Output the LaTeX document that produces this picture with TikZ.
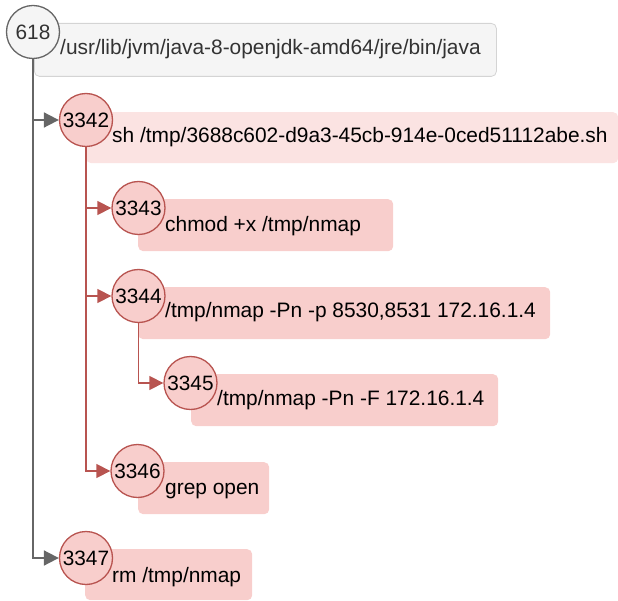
\documentclass[tikz,border=0pt]{standalone}
\usepackage{fontspec}
\setmainfont{Liberation Sans}
\usetikzlibrary{arrows.meta}

\definecolor{greyfill}{HTML}{F5F5F5}
\definecolor{greyedge}{HTML}{666666}
\definecolor{greybox}{HTML}{D4D4D4}
\definecolor{greytext}{HTML}{333333}
\definecolor{redfill}{HTML}{F8CECC}
\definecolor{redpale}{HTML}{FBE3E2}
\definecolor{rededge}{HTML}{B85450}

\tikzset{
  pid/.style={circle, minimum size=53pt, inner sep=0pt, line width=1.3pt,
    font=\fontsize{20.8}{24}\selectfont},
  pidgrey/.style={pid, fill=greyfill, draw=greyedge, text=greytext},
  pidred/.style={pid, fill=redfill, draw=rededge, text=black},
  cmdbox/.style={rounded corners=5pt, inner sep=0pt, anchor=north west},
  cmdgrey/.style={cmdbox, fill=greyfill, draw=greybox, line width=0.8pt},
  cmdred/.style={cmdbox, fill=redfill},
  cmdpale/.style={cmdbox, fill=redpale},
  cmdtext/.style={anchor=base west, inner sep=0pt, font=\fontsize{20.9}{24}\selectfont},
  greylink/.style={draw=greyedge, line width=1.8pt, -{Triangle[length=15pt,width=15pt]}},
  redlink/.style={draw=rededge, line width=1.3pt, -{Triangle[length=14pt,width=14pt]}}
}

\begin{document}
\begin{tikzpicture}[x=1pt, y=-1pt]
  \useasboundingbox (0,0) rectangle (618,601);

  % command boxes
  \node[cmdgrey, minimum width=462pt, minimum height=53pt] (b618)  at (34,23)  {};
  \node[cmdpale, minimum width=532pt, minimum height=51pt] (b3342) at (86,112) {};
  \node[cmdred,  minimum width=255pt, minimum height=52pt] (b3343) at (138,199) {};
  \node[cmdred,  minimum width=412pt, minimum height=52pt] (b3344) at (138,287) {};
  \node[cmdred,  minimum width=307pt, minimum height=52pt] (b3345) at (191,374) {};
  \node[cmdred,  minimum width=131pt, minimum height=52pt] (b3346) at (138,462) {};
  \node[cmdred,  minimum width=167pt, minimum height=51pt] (b3347) at (85,549)  {};

  % command lines
  \node[cmdtext, text=greytext] (t618) at (60,55) {/usr/lib/jvm/java-8-openjdk-amd64/jre/bin/java};
  \node[cmdtext] (t3342) at (112,143) {sh /tmp/3688c602-d9a3-45cb-914e-0ced51112abe.sh};
  \node[cmdtext] (t3343) at (165,232) {chmod +x /tmp/nmap};
  \node[cmdtext] (t3344) at (165,318) {/tmp/nmap -Pn -p 8530,8531 172.16.1.4};
  \node[cmdtext] (t3345) at (217,405) {/tmp/nmap -Pn -F 172.16.1.4};
  \node[cmdtext] (t3346) at (165,494) {grep open};
  \node[cmdtext] (t3347) at (112,582) {rm /tmp/nmap};

  % process ids
  \node[pidgrey] (c618)  at (33,32)   {618};
  \node[pidred]  (c3342) at (86,120)  {3342};
  \node[pidred]  (c3343) at (138.5,208) {3343};
  \node[pidred]  (c3344) at (138.5,296) {3344};
  \node[pidred]  (c3345) at (190.5,383) {3345};
  \node[pidred]  (c3346) at (137.5,471) {3346};
  \node[pidred]  (c3347) at (86,558)  {3347};

  % parent -> child links
  \draw[greylink] (c618.south) |- (c3342.west);
  \draw[greylink] (c618.south) |- (c3347.west);
  \draw[redlink] (c3342.south) |- (c3343.west);
  \draw[redlink] (c3342.south) |- (c3344.west);
  \draw[redlink] (c3342.south) |- (c3346.west);
  \draw[redlink] (c3344.south) |- (c3345.west);
\end{tikzpicture}
\end{document}
